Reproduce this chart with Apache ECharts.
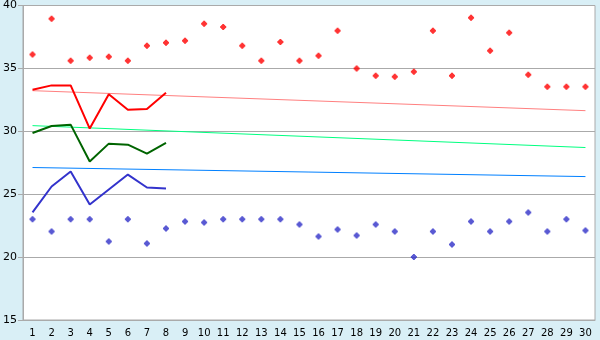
<!DOCTYPE html>
<html>
<head>
<meta charset="utf-8">
<script src="https://cdn.jsdelivr.net/npm/echarts@6/dist/echarts.min.js"></script>
<style>
  html, body { margin: 0; padding: 0; background: #d9eff6; }
  #chart { width: 600px; height: 340px; }
</style>
</head>
<body>
<div id="chart"></div>
<script>
// Data
var days = ['1','2','3','4','5','6','7','8','9','10','11','12','13','14','15',
            '16','17','18','19','20','21','22','23','24','25','26','27','28','29','30'];

var highPoints = [36.1, 38.95, 35.6, 35.85, 35.93, 35.6, 36.8, 37.04, 37.2, 38.55,
                  38.3, 36.8, 35.6, 37.1, 35.6, 36.0, 38.0, 35.0, 34.42, 34.34,
                  34.74, 38.0, 34.42, 39.02, 36.4, 37.83, 34.5, 33.55, 33.55, 33.55];

var lowPoints = [23.0, 22.04, 23.0, 23.0, 21.25, 23.0, 21.09, 22.28, 22.83, 22.75,
                 23.0, 23.0, 23.0, 23.0, 22.6, 21.64, 22.2, 21.72, 22.6, 22.04,
                 20.0, 22.04, 21.0, 22.83, 22.04, 22.83, 23.55, 22.04, 23.0, 22.12];

var redLine = [33.3, 33.65, 33.65, 30.22, 32.94, 31.72, 31.77, 33.07];
var greenLine = [29.87, 30.42, 30.53, 27.6, 29.02, 28.94, 28.23, 29.07];
var blueLine = [23.55, 25.61, 26.8, 24.18, 25.37, 26.56, 25.53, 25.45];

// trend lines: [start, end] at day 1 and day 30
var redTrend = [33.23, 31.64];
var greenTrend = [30.45, 28.71];
var blueTrend = [27.12, 26.4];

var yTicks = [15, 20, 25, 30, 35, 40];

var chart = echarts.init(document.getElementById('chart'));

// small stepped diamond, like the pixel marker of the original
var dotSymbol = 'path://M2,0 H4 V1 H5 V2 H6 V4 H5 V5 H4 V6 H2 V5 H1 V4 H0 V2 H1 V1 H2 Z';

function trend(name, vals, color) {
    return {
        name: name,
        type: 'line',
        data: [[0, vals[0]], [days.length - 1, vals[1]]],
        showSymbol: false,
        symbol: 'none',
        lineStyle: { color: color, width: 1 },
        z: 2
    };
}

function mainLine(name, vals, color) {
    return {
        name: name,
        type: 'line',
        data: vals,
        showSymbol: false,
        symbol: 'none',
        lineStyle: { color: color, width: 2 },
        z: 3
    };
}

chart.setOption({
    animation: false,
    backgroundColor: '#d9eff6',
    textStyle: { fontFamily: 'DejaVu Sans, sans-serif' },
    grid: {
        left: 21,
        right: 5,
        top: 5,
        bottom: 20,
        show: true,
        backgroundColor: '#ffffff',
        borderColor: '#aaaaaa',
        borderWidth: 1
    },
    xAxis: {
        type: 'category',
        data: days,
        boundaryGap: true,
        axisLine: { lineStyle: { color: '#aaaaaa' } },
        axisTick: { alignWithLabel: true, length: 4, lineStyle: { color: '#333' } },
        axisLabel: { color: '#000', fontSize: 10, margin: 8, interval: 0 },
        splitLine: { show: false }
    },
    yAxis: {
        type: 'value',
        min: yTicks[0],
        max: yTicks[yTicks.length - 1],
        interval: 5,
        axisLine: { show: true, lineStyle: { color: '#aaaaaa' } },
        axisTick: { show: true, length: 5, lineStyle: { color: '#aaaaaa' } },
        axisLabel: { color: '#000', fontSize: 11, margin: 6 },
        splitLine: { lineStyle: { color: '#aaaaaa', width: 1 } }
    },
    series: [
        trend('redTrend', redTrend, '#ff8080'),
        trend('greenTrend', greenTrend, '#00ff80'),
        trend('blueTrend', blueTrend, '#0080ff'),
        mainLine('red', redLine, '#ff0000'),
        mainLine('green', greenLine, '#006400'),
        mainLine('blue', blueLine, '#3333cc'),
        {
            name: 'high',
            type: 'scatter',
            data: highPoints,
            symbol: dotSymbol,
            symbolSize: 6,
            itemStyle: { color: '#ff0000' },
            z: 4
        },
        {
            name: 'low',
            type: 'scatter',
            data: lowPoints,
            symbol: dotSymbol,
            symbolSize: 6,
            itemStyle: { color: '#3030c8' },
            z: 4
        }
    ]
});
</script>
</body>
</html>
